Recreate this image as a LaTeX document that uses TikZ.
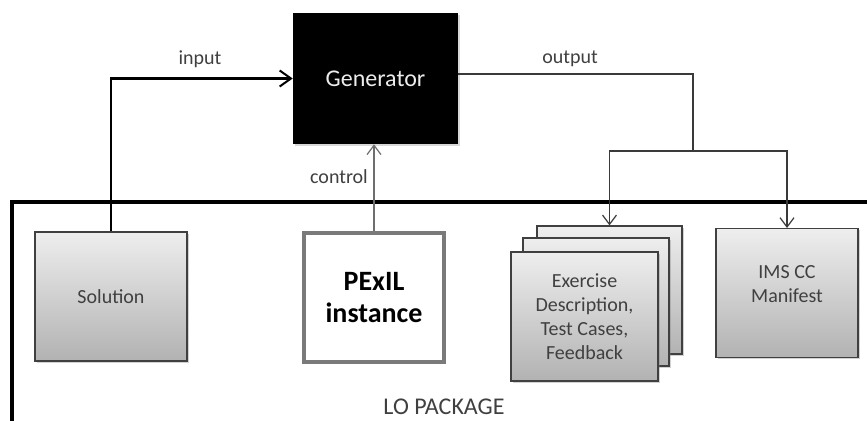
\documentclass[tikz,border=0pt]{standalone}
\usepackage{fontspec}
\setmainfont{Carlito}
\usetikzlibrary{arrows.meta,shadows}
\definecolor{txt}{HTML}{404040}
\definecolor{boxtop}{HTML}{EEEEEE}
\definecolor{boxbot}{HTML}{B2B2B2}
\definecolor{pexline}{HTML}{7A7A7A}
\definecolor{thinline}{HTML}{3A3A3A}
\begin{document}
\begin{tikzpicture}[x=0.75pt,y=-0.75pt,
  gbox/.style={draw=txt, line width=0.9pt, top color=boxtop, bottom color=boxbot,
    text=txt, font=\fontsize{15}{18}\selectfont, align=center, inner sep=0pt,
    drop shadow={shadow xshift=1.2pt, shadow yshift=-1.2pt, opacity=0.35}},
  lbl/.style={text=txt, font=\fontsize{15}{18}\selectfont, inner sep=0pt},
  inarrow/.style={line width=1.6pt, -{Straight Barb[length=8.5pt,width=12pt,line width=1.5pt]}},
  thinarrow/.style={line width=0.8pt, draw=thinline, -{Straight Barb[length=7pt,width=10.5pt,line width=0.9pt]}},
  ctrlarrow/.style={line width=0.8pt, draw=pexline!90!black, -{Straight Barb[length=7pt,width=10.5pt,line width=0.9pt]}}
]
\useasboundingbox (0,0) rectangle (867,421);
\fill[white] (0,0) rectangle (867,421);

% LO package frame
\draw[line width=2.3pt] (12,425) -- (12,202) -- (870,202);

% Generator
\node[fill=black, minimum width=165*0.75pt, minimum height=131*0.75pt, inner sep=0pt,
  text=gray!15, font=\fontsize{18}{22}\selectfont,
  drop shadow={shadow xshift=1.2pt, shadow yshift=-1.2pt, opacity=0.3}] (gen) at (375.5,78.5) {Generator};

% boxes
\node[gbox, minimum width=152*0.75pt, minimum height=129*0.75pt] (sol) at (111,296.5) {Solution};
\node[draw=pexline, line width=2.3pt, fill=white, minimum width=140*0.75pt, minimum height=129*0.75pt,
  align=center, font=\bfseries\fontsize{21}{24.5}\selectfont, text=black, inner sep=0pt] (pex) at (374,297.5) {PExIL\\instance};
\node[gbox, minimum width=145*0.75pt, minimum height=128*0.75pt] (ex3) at (609.5,290) {};
\node[gbox, minimum width=146*0.75pt, minimum height=128*0.75pt] (ex2) at (596,302) {};
\node[gbox, minimum width=147*0.75pt, minimum height=129*0.75pt] (ex1) at (584.5,316.5) {Exercise\\Description,\\Test Cases,\\Feedback};
\node[gbox, minimum width=142*0.75pt, minimum height=129*0.75pt, anchor=north, text depth=0pt] (man) at (787,228) {};
\node[lbl, align=center] (mantext) at (787,284) {IMS CC\\Manifest};

% connectors
\draw[inarrow] (sol.north) |- (gen.west);
\draw[ctrlarrow] (pex.north) -- (pex.north |- gen.south);
\coordinate (split) at (693,151);
\draw[line width=0.8pt, draw=thinline] ([yshift=3.4pt]gen.east) -| (split);
\draw[thinarrow] (split) -| (ex3.north);
\draw[thinarrow] (split) -| (man.north);

% labels
\node[lbl] (inlbl) at (200,59) {input};
\node[lbl] (outlbl) at (570,59) {output};
\node[lbl] (ctrllbl) at (339,177) {control};
\node[lbl, font=\fontsize{18}{22}\selectfont] (lolbl) at (444,407) {LO PACKAGE};
\end{tikzpicture}
\end{document}
